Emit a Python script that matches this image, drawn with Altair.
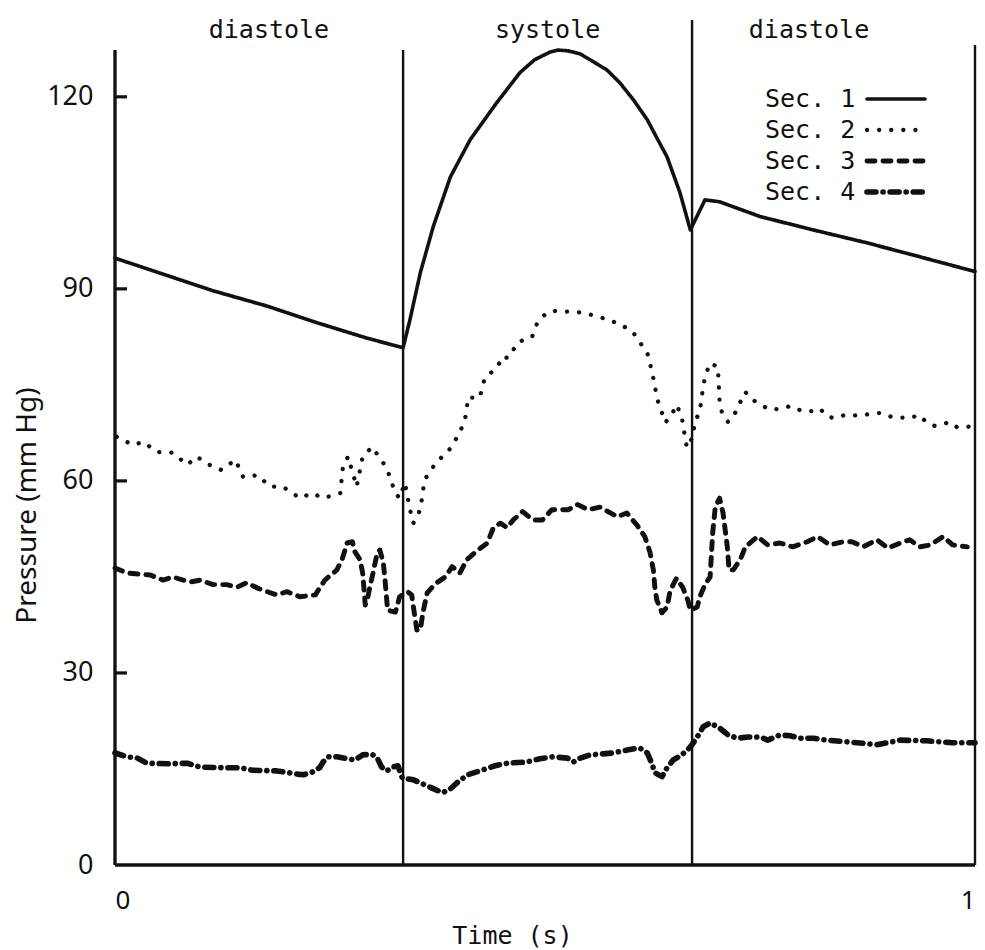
import altair as alt
import pandas as pd

# Pressure traces over one cardiac cycle (time in s, pressure in mm Hg)
series = ["Sec. 1", "Sec. 2", "Sec. 3", "Sec. 4"]

sec1_t = [0.000, 0.114, 0.177, 0.235, 0.293, 0.335, 0.343, 0.355, 0.370, 0.390,
          0.413, 0.444, 0.471, 0.488, 0.506, 0.515, 0.526, 0.541, 0.556, 0.572,
          0.587, 0.603, 0.619, 0.630, 0.642, 0.657, 0.669, 0.686, 0.703, 0.750,
          0.812, 0.874, 0.936, 1.000]
sec1_p = [94.8, 89.7, 87.3, 84.7, 82.3, 80.8, 85.2, 92.5, 99.7, 107.5,
          113.3, 119.1, 123.8, 125.8, 127.0, 127.3, 127.2, 126.7, 125.5, 124.2,
          122.2, 119.5, 116.4, 113.6, 110.6, 105.0, 99.2, 103.9, 103.6, 101.3,
          99.2, 97.2, 95.0, 92.7]

sec2_t = [0.002, 0.021, 0.033, 0.049, 0.067, 0.084, 0.095, 0.110, 0.124, 0.140,
          0.149, 0.166, 0.180, 0.195, 0.215, 0.229, 0.242, 0.262, 0.265, 0.271,
          0.281, 0.288, 0.299, 0.316, 0.326, 0.331, 0.337, 0.343, 0.347, 0.355,
          0.360, 0.374, 0.387, 0.401, 0.409, 0.410, 0.424, 0.430, 0.445, 0.450,
          0.457, 0.469, 0.485, 0.491, 0.502, 0.514, 0.529, 0.543, 0.558, 0.573,
          0.587, 0.602, 0.610, 0.619, 0.624, 0.628, 0.630, 0.634, 0.640, 0.649,
          0.653, 0.659, 0.663, 0.665, 0.672, 0.674, 0.680, 0.683, 0.686, 0.692,
          0.701, 0.703, 0.706, 0.713, 0.721, 0.727, 0.733, 0.738, 0.749, 0.762,
          0.774, 0.786, 0.799, 0.810, 0.820, 0.826, 0.835, 0.849, 0.869, 0.881,
          0.892, 0.903, 0.924, 0.935, 0.944, 0.953, 0.963, 0.971, 0.979, 0.991,
          1.000]
sec2_p = [66.9, 65.6, 66.1, 64.5, 64.4, 62.5, 63.8, 62.5, 61.7, 63.3,
          60.6, 60.9, 59.1, 59.1, 57.3, 58.1, 57.3, 58.1, 62.2, 63.8,
          59.1, 63.8, 65.3, 62.0, 58.1, 57.3, 59.7, 55.5, 53.4, 55.5,
          60.2, 63.0, 64.5, 67.5, 70.6, 73.0, 73.0, 76.1, 77.8, 79.4,
          79.2, 81.7, 82.5, 84.7, 86.3, 86.6, 86.4, 86.3, 85.8, 85.2,
          84.5, 83.3, 81.7, 80.0, 77.3, 74.7, 73.0, 71.4, 69.1, 70.8,
          71.9, 70.0, 66.7, 65.2, 66.9, 69.1, 70.9, 73.8, 76.3, 78.4,
          77.8, 72.5, 70.5, 69.2, 70.6, 72.3, 73.9, 73.0, 72.0, 71.1,
          71.3, 71.7, 70.9, 70.9, 71.3, 70.3, 69.8, 70.3, 70.2, 70.6,
          70.6, 70.0, 69.8, 70.3, 69.1, 68.6, 68.9, 69.2, 68.4, 68.4,
          68.9]

sec3_t = [0.000, 0.014, 0.041, 0.056, 0.067, 0.087, 0.099, 0.114, 0.130, 0.142,
          0.153, 0.165, 0.177, 0.188, 0.200, 0.215, 0.233, 0.238, 0.244, 0.258,
          0.264, 0.270, 0.276, 0.279, 0.285, 0.288, 0.291, 0.294, 0.297, 0.300,
          0.305, 0.308, 0.312, 0.314, 0.317, 0.326, 0.331, 0.340, 0.345, 0.347,
          0.351, 0.355, 0.358, 0.363, 0.372, 0.384, 0.392, 0.401, 0.409, 0.422,
          0.433, 0.440, 0.448, 0.456, 0.463, 0.474, 0.486, 0.497, 0.508, 0.527,
          0.538, 0.550, 0.564, 0.576, 0.584, 0.595, 0.607, 0.616, 0.622, 0.626,
          0.628, 0.630, 0.636, 0.642, 0.645, 0.649, 0.653, 0.660, 0.666, 0.669,
          0.677, 0.680, 0.686, 0.692, 0.695, 0.698, 0.703, 0.707, 0.712, 0.714,
          0.719, 0.727, 0.733, 0.747, 0.759, 0.773, 0.788, 0.805, 0.817, 0.831,
          0.847, 0.857, 0.870, 0.886, 0.899, 0.913, 0.924, 0.936, 0.948, 0.963,
          0.974, 0.991]
sec3_p = [46.4, 45.6, 45.3, 44.5, 45.0, 44.2, 44.5, 43.8, 43.8, 43.4,
          44.1, 43.3, 42.7, 42.2, 42.7, 41.9, 42.2, 43.3, 44.5, 46.1,
          47.7, 50.3, 50.5, 48.9, 47.7, 45.6, 40.6, 41.9, 43.8, 45.6,
          48.8, 49.2, 47.2, 44.5, 39.8, 39.5, 41.9, 42.7, 42.2, 40.3,
          36.7, 36.7, 39.4, 42.5, 43.9, 45.0, 46.6, 45.6, 47.7, 49.2,
          50.3, 52.7, 53.4, 52.7, 53.9, 55.2, 53.9, 53.9, 55.5, 55.5,
          56.3, 55.5, 55.9, 55.0, 54.4, 55.0, 53.1, 51.3, 48.9, 46.1,
          43.0, 41.4, 39.4, 40.3, 42.5, 43.8, 44.8, 43.4, 41.4, 39.8,
          40.3, 41.9, 43.8, 45.0, 51.9, 55.9, 57.3, 55.0, 49.7, 46.1,
          46.1, 47.7, 49.7, 51.3, 50.0, 50.3, 49.7, 50.5, 51.3, 50.0,
          50.5, 50.5, 49.7, 50.8, 49.5, 50.3, 50.8, 49.7, 50.0, 51.3,
          50.0, 49.7]

sec4_t = [0.000, 0.014, 0.026, 0.037, 0.064, 0.084, 0.099, 0.126, 0.145, 0.160,
          0.188, 0.212, 0.219, 0.229, 0.238, 0.242, 0.248, 0.258, 0.270, 0.279,
          0.288, 0.299, 0.305, 0.310, 0.316, 0.323, 0.329, 0.334, 0.347, 0.364,
          0.374, 0.381, 0.390, 0.399, 0.410, 0.424, 0.442, 0.456, 0.479, 0.494,
          0.509, 0.526, 0.533, 0.541, 0.552, 0.579, 0.597, 0.610, 0.619, 0.624,
          0.628, 0.636, 0.642, 0.649, 0.659, 0.666, 0.671, 0.677, 0.684, 0.692,
          0.703, 0.713, 0.724, 0.736, 0.750, 0.759, 0.773, 0.785, 0.797, 0.812,
          0.828, 0.855, 0.886, 0.898, 0.913, 0.944, 0.974, 1.000]
sec4_p = [17.5, 16.9, 16.7, 15.9, 15.8, 15.9, 15.3, 15.2, 15.2, 14.8,
          14.7, 14.2, 14.1, 14.5, 15.2, 16.1, 16.9, 16.9, 16.6, 16.4,
          17.2, 17.3, 16.7, 15.3, 14.7, 15.3, 15.5, 13.6, 13.3, 12.3,
          11.7, 11.3, 11.9, 13.0, 14.1, 14.7, 15.5, 15.9, 16.1, 16.6,
          16.9, 16.7, 16.1, 16.7, 17.2, 17.5, 18.0, 18.3, 17.5, 15.9,
          14.4, 13.8, 15.2, 16.4, 17.2, 18.0, 18.8, 20.0, 21.6, 22.2,
          21.4, 20.3, 19.8, 20.0, 20.0, 19.5, 20.3, 20.2, 19.8, 19.8,
          19.5, 19.2, 18.8, 19.1, 19.5, 19.4, 19.1, 19.1]

# Cycle phases and their boundaries
phase_names = ["diastole", "systole", "diastole"]
phase_label_t = [0.179, 0.503, 0.807]
frame_t = [0.0, 0.335, 0.671, 1.0]
frame_top = [127.3, 127.3, 132.0, 128.1]

y_ticks = [0, 30, 60, 90, 120]
x_ticks = [0, 1]

MONO = "DejaVu Sans Mono"
SANS = "Noto Sans"
INK = "#111111"

rows = []
for name, ts, ps in zip(series, [sec1_t, sec2_t, sec3_t, sec4_t],
                        [sec1_p, sec2_p, sec3_p, sec4_p]):
    for i, (t, p) in enumerate(zip(ts, ps)):
        rows.append({"series": name, "t": t, "p": p, "i": i})
traces = pd.DataFrame(rows)

dash_scale = alt.Scale(domain=series,
                       range=[[1, 0], [0.1, 12], [8, 8], [9, 7, 0.1, 7]])
width_scale = alt.Scale(domain=series, range=[3.6, 5.6, 3.6, 3.6])

x_scale = alt.Scale(domain=[0, 1], nice=False)
y_scale = alt.Scale(domain=[0, 132], nice=False)

lines = alt.Chart(traces).mark_line(strokeCap="round", strokeJoin="round",
                                    color=INK).encode(
    x=alt.X("t:Q", scale=x_scale,
            axis=alt.Axis(values=x_ticks, format="d", title="Time (s)",
                          grid=False, domain=False, ticks=False,
                          labelFlush=True, labelFont=SANS, labelFontSize=26,
                          labelColor=INK, labelPadding=22, titleFont=MONO,
                          titleFontSize=25, titleFontWeight="normal",
                          titleColor=INK, titleX=397, titleY=70,
                          titleBaseline="middle")),
    y=alt.Y("p:Q", scale=y_scale,
            axis=alt.Axis(values=y_ticks, title="Pressure (mm Hg)", grid=False,
                          domain=False, ticks=False, labelFont=SANS,
                          labelFontSize=27, labelColor=INK, labelPadding=22,
                          labelBaseline="middle",
                          titleFont=SANS, titleFontSize=28,
                          titleFontWeight="normal", titleColor=INK,
                          titleAngle=270, titleX=-88, titleY=485,
                          titleAlign="center", titleBaseline="middle")),
    detail="series:N",
    order="i:Q",
    strokeDash=alt.StrokeDash("series:N", scale=dash_scale, legend=None),
    strokeWidth=alt.StrokeWidth("series:N", scale=width_scale, legend=None),
)

# Frame: left axis, phase boundaries and right edge, drawn from the baseline up
frame_df = pd.DataFrame({"t": frame_t, "top": frame_top, "bottom": [0.0] * len(frame_t)})
frame = alt.Chart(frame_df).mark_rule(color=INK, strokeWidth=2.4).encode(
    x=alt.X("t:Q", title="Time (s)"),
    y=alt.Y("bottom:Q", title="Pressure (mm Hg)"),
    y2="top:Q",
)
left_axis = alt.Chart(frame_df.iloc[:1]).mark_rule(color=INK, strokeWidth=3.2).encode(
    x=alt.X("t:Q", title="Time (s)"),
    y=alt.Y("bottom:Q", title="Pressure (mm Hg)"),
    y2="top:Q",
)

base_df = pd.DataFrame({"t0": [frame_t[0]], "t1": [frame_t[-1]], "p": [0.0]})
baseline = alt.Chart(base_df).mark_rule(color=INK, strokeWidth=3.6).encode(
    x=alt.X("t0:Q", title="Time (s)"),
    x2="t1:Q",
    y=alt.Y("p:Q", title="Pressure (mm Hg)"),
)

tick_df = pd.DataFrame({"p": [v for v in y_ticks if v > 0]})
tick_marks = alt.Chart(tick_df).mark_rule(color=INK, strokeWidth=3.2).encode(
    x=alt.value(0),
    x2=alt.value(12),
    y=alt.Y("p:Q", title="Pressure (mm Hg)"),
)

phase_df = pd.DataFrame({"name": phase_names, "t": phase_label_t,
                         "p": [130.5] * len(phase_names)})
phases = alt.Chart(phase_df).mark_text(font=MONO, fontSize=25, color=INK,
                                       baseline="middle", align="center").encode(
    x=alt.X("t:Q", title="Time (s)"),
    y=alt.Y("p:Q", title="Pressure (mm Hg)"),
    text="name:N",
)

# Key: label on the left, line sample on the right, one row per series
key_df = pd.DataFrame({"series": series})
key_layers = []
for row, name in enumerate(series):
    row_chart = alt.Chart(key_df).transform_filter(alt.datum.series == name)
    row_y = 79 + 31 * row
    key_layers.append(row_chart.mark_text(
        font=MONO, fontSize=25, color=INK, align="left", baseline="middle"
    ).encode(x=alt.value(650), y=alt.value(row_y), text="series:N"))
    key_layers.append(row_chart.mark_rule(color=INK, strokeCap="round").encode(
        x=alt.value(752),
        x2=alt.value(810),
        y=alt.value(row_y),
        strokeDash=alt.StrokeDash("series:N", scale=dash_scale, legend=None),
        strokeWidth=alt.StrokeWidth("series:N", scale=width_scale, legend=None),
    ))

chart = alt.layer(
    lines, frame, left_axis, baseline, tick_marks, phases, *key_layers
).properties(
    width=860,
    height=845,
    autosize=alt.AutoSizeParams(type="none"),
    padding={"left": 115, "top": 20, "right": 10, "bottom": 85},
    background="white",
).configure_view(stroke=None)

chart.save("out.html", embed_options={"renderer": "svg", "actions": False})
